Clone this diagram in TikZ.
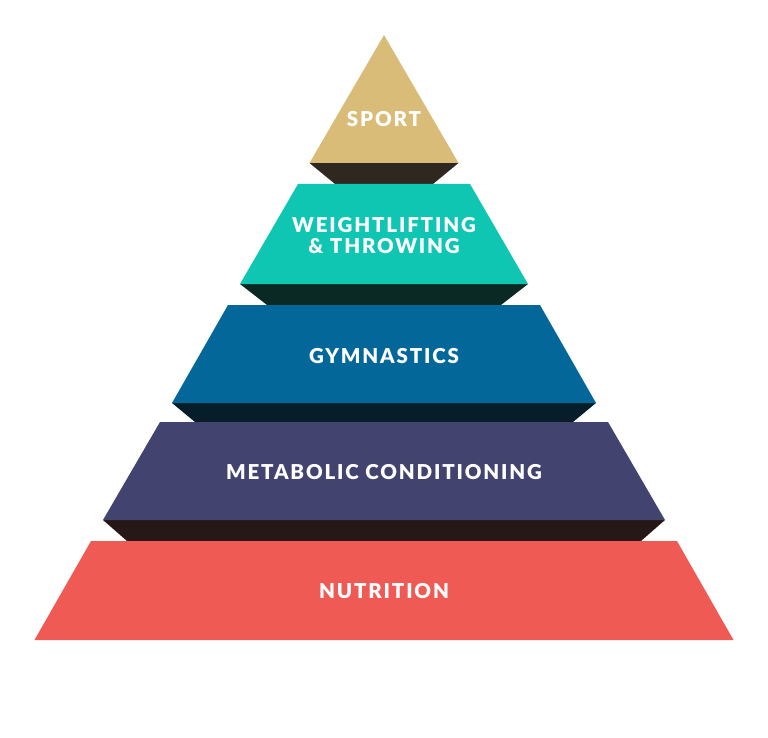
\documentclass[tikz,border=0pt]{standalone}
\usepackage{fontspec}
\setmainfont{Lato}
\newfontfamily\tierfont[LetterSpace=9,BoldFont={Lato Black}]{Lato}
\usetikzlibrary{positioning}

\definecolor{sportgold}{HTML}{D9BC78}
\definecolor{sportdark}{HTML}{2E2820}
\definecolor{liftteal}{HTML}{0EC6B2}
\definecolor{liftdark}{HTML}{0A2824}
\definecolor{gymblue}{HTML}{03679A}
\definecolor{gymdark}{HTML}{061E2A}
\definecolor{metpurple}{HTML}{42436F}
\definecolor{metdark}{HTML}{261816}
\definecolor{nutred}{HTML}{F05A55}

\tikzset{
  tier/.style={text=white,font=\tierfont\bfseries\fontsize{20.5}{21}\selectfont,align=center,inner sep=0pt}
}

\begin{document}
\begin{tikzpicture}[x=1pt,y=-1pt]

\useasboundingbox (0,0) rectangle (768,738);

% layers: top y / bottom y / top half width / bottom half width / shadow half width / shadow bottom / colours
\foreach \yt/\yb/\wt/\wb/\ws/\ys/\c/\s in {35/163/0/74.5/49/184/sportgold/sportdark,
  184/284/86/144/117/305/liftteal/liftdark,
  305/403/156/212/189/422/gymblue/gymdark,
  422/520/224/281/257/541/metpurple/metdark}
{
\fill[\s] ({384-\wb},\yb) -- ({384+\wb},\yb) -- ({384+\ws},\ys) -- ({384-\ws},\ys) -- cycle;
\fill[\c] ({384-\wt},\yt) -- ({384+\wt},\yt) -- ({384+\wb},\yb) -- ({384-\wb},\yb) -- cycle;
}

\fill[nutred] (91,541) -- (677,541) -- (733.5,640) -- (34.5,640) -- cycle;

\node[tier] (sport) at (384,119) {SPORT};
\node[tier] (lift) at (384,235.5) {WEIGHTLIFTING\\\& THROWING};
\node[tier] (gym) at (384,356) {GYMNASTICS};
\node[tier] (metcon) at (384,472) {METABOLIC CONDITIONING};
\node[tier] (nutrition) at (384,591) {NUTRITION};
\end{tikzpicture}
\end{document}
